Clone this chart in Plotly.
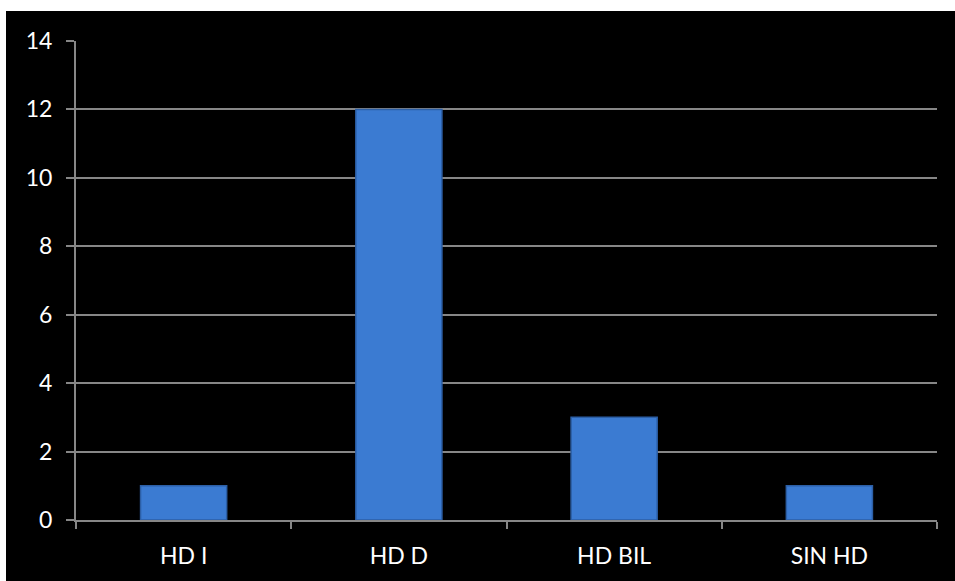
import plotly.graph_objects as go

# Category counts
categories = ["HD I", "HD D", "HD BIL", "SIN HD"]
counts = [1, 12, 3, 1]
y_ticks = [0, 2, 4, 6, 8, 10, 12, 14]

GRID = "#868686"
BAR = "#3b7bd2"

fig = go.Figure()
fig.add_trace(go.Bar(
    x=categories,
    y=counts,
    width=0.4,
    marker=dict(color=BAR, line=dict(color="#2c5fa6", width=1.5)),
    hoverinfo="x+y",
))

fig.update_layout(
    width=955,
    height=581,
    margin=dict(l=76, r=18, t=41, b=61),
    paper_bgcolor="#000000",
    plot_bgcolor="#000000",
    showlegend=False,
    font=dict(family="Lato, Liberation Sans, sans-serif", size=23, color="#ffffff"),
    bargap=0.6,
    # white frame strips along the top and left edges
    shapes=[
        dict(type="rect", xref="paper", yref="paper",
             x0=-0.1, x1=1.1, y0=1.0626, y1=1.1,
             fillcolor="#ffffff", line=dict(width=0), layer="above"),
        dict(type="rect", xref="paper", yref="paper",
             x0=-0.1, x1=-0.0813, y0=-0.2, y1=1.1,
             fillcolor="#ffffff", line=dict(width=0), layer="above"),
    ],
)

fig.update_xaxes(
    type="category",
    showline=True, linecolor=GRID, linewidth=2,
    showgrid=False,
    ticks="outside", tickson="boundaries", ticklen=7, tickwidth=2, tickcolor=GRID,
    tickfont=dict(size=23, color="#ffffff"),
    ticklabelstandoff=14,
)

fig.update_yaxes(
    range=[0, 14],
    tickvals=y_ticks,
    showline=True, linecolor=GRID, linewidth=2,
    showgrid=True, gridcolor=GRID, gridwidth=1.5,
    zeroline=False,
    ticks="outside", ticklen=8, tickwidth=2, tickcolor=GRID,
    tickfont=dict(size=23, color="#ffffff"),
    ticklabelstandoff=9,
)

fig.write_html("out.html")
